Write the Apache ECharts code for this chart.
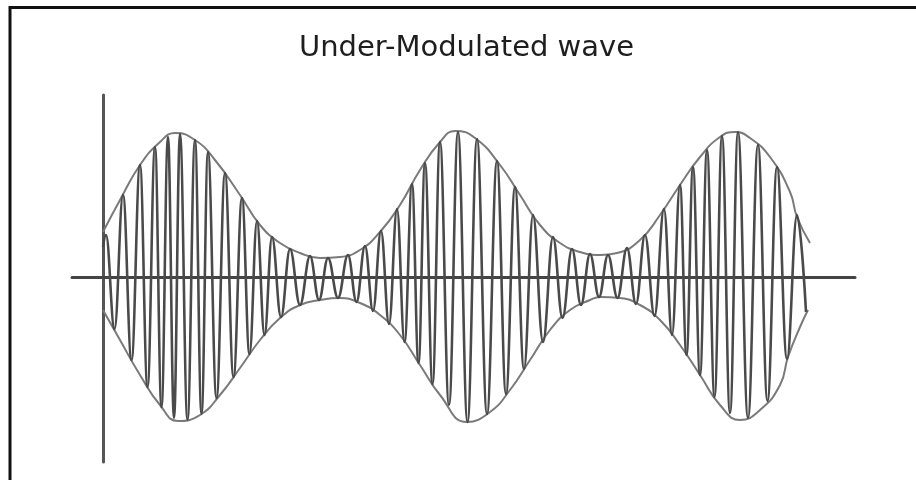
<!DOCTYPE html>
<html>
<head>
<meta charset="utf-8">
<script src="https://cdn.jsdelivr.net/npm/echarts@6/dist/echarts.min.js"></script>
<style>
html,body{margin:0;padding:0;background:#fff;}
#chart{width:916px;height:480px;}
</style>
</head>
<body>
<div id="chart"></div>
<script>
// Title
var titleText = 'Under-Modulated wave';

// Modulated carrier: time offsets and instantaneous amplitude (peaks and troughs)
var carrierT = [0,3,11.5,20,28.5,37,44.5,52,58.5,65,71,77,84.5,92,98.5,105,113.5,122,130.5,139,146.5,154,161.5,169,178,187,197,207,216,225,235,245,253.5,262,270,278,286,294,301.5,309,315.5,322,329.5,337,346,355,364.5,374,384,394,403,412,421,430,440,450,459.5,469,478,487,496,505,514.5,524,533,542,551.5,561,569,577,583.5,590,597,604,611.5,619,627,635,645,655,664.5,674,684,694,703];
var carrierV = [30,42,-52,82,-83,112,-110,130,-130,140,-141,143,-143,137,-137,125,-121,104,-100,79,-77,56,-58,40,-40,28,-28,21,-23,19,-21,22,-25,31,-34,46,-47,68,-65,93,-86,114,-107,135,-128,145,-145,138,-137,116,-117,90,-92,62,-65,40,-41,28,-28,23,-20,22,-21,29,-27,42,-39,68,-58,92,-78,110,-98,127,-120,141,-136,145,-141,132,-124,110,-82,62,-35];

// Upper envelope
var upperT = [0,17,37,57,72,92,112,137,157,177,197,217,237,257,277,297,317,337,352,372,397,417,437,457,477,497,514,537,557,577,597,617,632,647,667,687,694,707];
var upperV = [45,77,112,135,144,137,117,82,52,34,24,19,20,27,45,72,107,135,146,139,112,82,52,34,25,22,24,37,62,92,120,140,145,139,120,85,60,34];

// Lower envelope
var lowerT = [0,17,37,57,75,97,117,137,157,177,197,217,237,257,277,297,317,337,364,387,407,427,447,467,487,497,517,537,557,577,597,617,637,657,677,685,697,705];
var lowerV = [-33,-63,-98,-128,-144,-138,-118,-91,-63,-41,-28,-23,-21,-26,-38,-58,-88,-118,-145,-135,-113,-83,-53,-33,-23,-20,-21,-28,-43,-68,-98,-128,-143,-133,-108,-80,-50,-33];

function zip(a, b) { return a.map(function (v, i) { return [v, b[i]]; }); }

var chart = echarts.init(document.getElementById('chart'), null, {renderer: 'canvas'});
chart.setOption({
  animation: false,
  backgroundColor: '#ffffff',
  title: {
    text: titleText,
    left: 294,
    top: 29,
    textStyle: {fontFamily: 'DejaVu Sans', fontSize: 29, fontWeight: 'normal', color: '#1e1e1e'}
  },
  graphic: [
    {type: 'polyline', shape: {points: [[10, 480], [10, 7.5], [916, 7.5]]},
     style: {stroke: '#111', lineWidth: 3, fill: null}, z: 10}
  ],
  grid: {left: 72, right: 61, top: 95, bottom: 18},
  xAxis: {
    type: 'value', min: -31, max: 752,
    axisLine: {show: true, onZero: true, lineStyle: {color: '#444', width: 3}},
    axisTick: {show: false}, axisLabel: {show: false}, splitLine: {show: false}
  },
  yAxis: {
    type: 'value', min: -185, max: 182,
    axisLine: {show: true, onZero: true, lineStyle: {color: '#555', width: 3}},
    axisTick: {show: false}, axisLabel: {show: false}, splitLine: {show: false}
  },
  series: [
    {type: 'line', data: zip(upperT, upperV), smooth: 0.5, showSymbol: false,
     lineStyle: {color: '#7a7a7a', width: 2}, z: 3},
    {type: 'line', data: zip(lowerT, lowerV), smooth: 0.5, showSymbol: false,
     lineStyle: {color: '#7a7a7a', width: 2}, z: 3},
    {type: 'line', data: zip(carrierT, carrierV), smooth: 0.4, smoothMonotone: 'x', showSymbol: false,
     lineStyle: {color: '#4a4a4a', width: 2.6}, z: 4}
  ]
});
</script>
</body>
</html>
